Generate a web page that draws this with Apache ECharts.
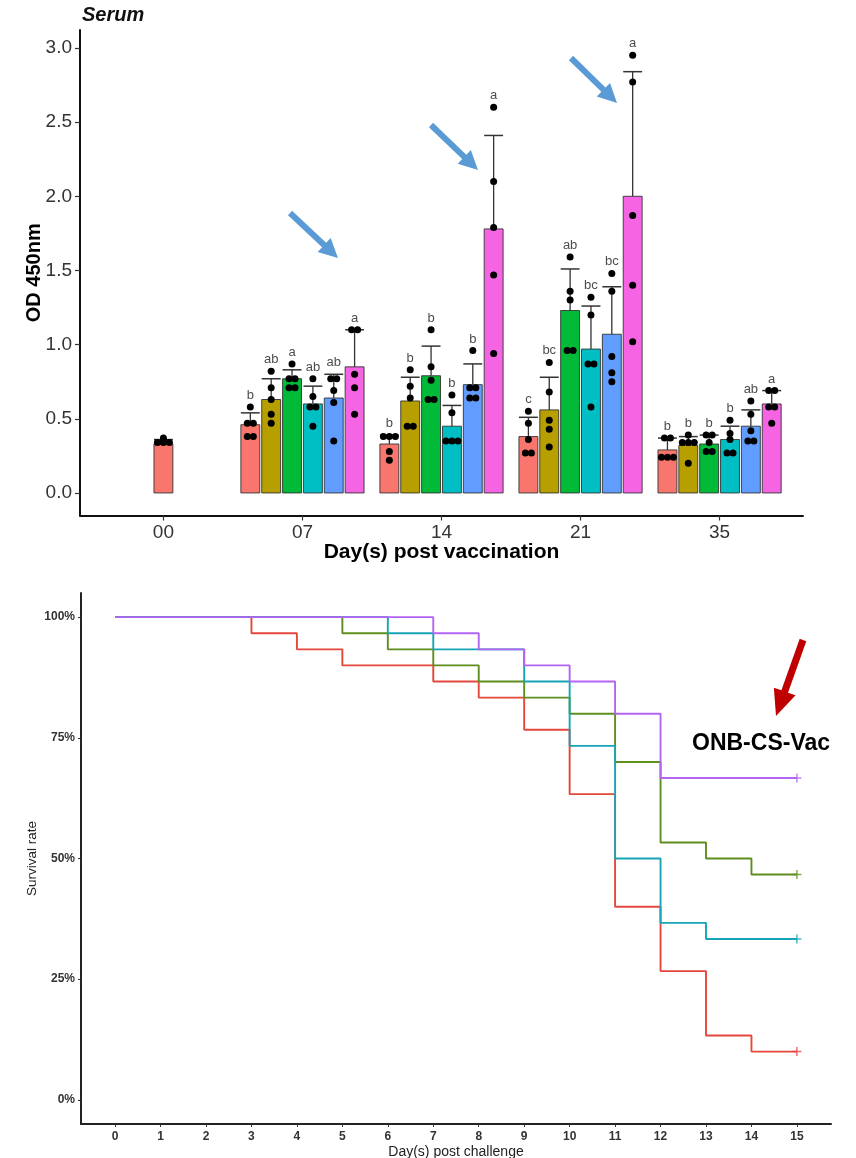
<!DOCTYPE html>
<html>
<head>
<meta charset="utf-8">
<title>Serum OD and survival</title>
<script src="https://cdn.jsdelivr.net/npm/echarts/dist/echarts.min.js"></script>
<style>
  html, body { margin: 0; padding: 0; background: #fff; }
  #main { width: 856px; height: 1158px; }
</style>
</head>
<body>
<div id="main"></div>
<script>
// ---- top panel: OD 450nm per day post vaccination ----
var days = ['00', '07', '14', '21', '35'];
var barColors = ['#F8766D', '#B79F00', '#00BA38', '#00BFC4', '#619CFF', '#F564E3'];

var meanD00 = [0.33];
var upperD00 = [0.36];
var letterD00 = [''];
var ptsD00 = [[0.37, 0.35, 0.34, 0.34, 0.34]];

var meanD07 = [0.46, 0.63, 0.77, 0.60, 0.64, 0.85];
var upperD07 = [0.54, 0.77, 0.83, 0.72, 0.80, 1.10];
var letterD07 = ['b', 'ab', 'a', 'ab', 'ab', 'a'];
var ptsD07 = [
  [0.58, 0.47, 0.47, 0.38, 0.38],
  [0.82, 0.71, 0.63, 0.53, 0.47],
  [0.87, 0.77, 0.77, 0.71, 0.71],
  [0.77, 0.65, 0.58, 0.58, 0.45],
  [0.77, 0.77, 0.69, 0.61, 0.35],
  [1.10, 1.10, 0.80, 0.71, 0.53]
];

var meanD14 = [0.33, 0.62, 0.79, 0.45, 0.73, 1.78];
var upperD14 = [0.39, 0.78, 0.99, 0.59, 0.87, 2.41];
var letterD14 = ['b', 'b', 'b', 'b', 'b', 'a'];
var ptsD14 = [
  [0.38, 0.38, 0.38, 0.28, 0.22],
  [0.83, 0.72, 0.64, 0.45, 0.45],
  [1.10, 0.85, 0.76, 0.63, 0.63],
  [0.66, 0.54, 0.35, 0.35, 0.35],
  [0.96, 0.71, 0.71, 0.64, 0.64],
  [2.60, 2.10, 1.79, 1.47, 0.94]
];

var meanD21 = [0.38, 0.56, 1.23, 0.97, 1.07, 2.00];
var upperD21 = [0.51, 0.78, 1.51, 1.26, 1.39, 2.84];
var letterD21 = ['c', 'bc', 'ab', 'bc', 'bc', 'a'];
var ptsD21 = [
  [0.55, 0.47, 0.36, 0.27, 0.27],
  [0.88, 0.68, 0.49, 0.43, 0.31],
  [1.59, 1.36, 1.30, 0.96, 0.96],
  [1.32, 1.20, 0.87, 0.87, 0.58],
  [1.48, 1.36, 0.92, 0.81, 0.75],
  [2.95, 2.77, 1.87, 1.40, 1.02]
];

var meanD35 = [0.29, 0.32, 0.33, 0.36, 0.45, 0.60];
var upperD35 = [0.37, 0.38, 0.39, 0.45, 0.56, 0.69];
var letterD35 = ['b', 'b', 'b', 'b', 'ab', 'a'];
var ptsD35 = [
  [0.37, 0.37, 0.24, 0.24, 0.24],
  [0.39, 0.34, 0.34, 0.34, 0.20],
  [0.39, 0.39, 0.34, 0.28, 0.28],
  [0.49, 0.40, 0.36, 0.27, 0.27],
  [0.62, 0.53, 0.42, 0.35, 0.35],
  [0.69, 0.69, 0.58, 0.58, 0.47]
];

var odTicks = [0, 0.5, 1.0, 1.5, 2.0, 2.5, 3.0];

// ---- bottom panel: survival after challenge (step points, %) ----
var survDays = [0, 1, 2, 3, 4, 5, 6, 7, 8, 9, 10, 11, 12, 13, 14, 15];
var survTicks = [0, 25, 50, 75, 100];
var survRed = [[0, 100], [3, 96.67], [4, 93.33], [5, 90], [7, 86.67], [8, 83.33], [9, 76.67], [10, 63.33], [11, 40], [12, 26.67], [13, 13.33], [14, 10], [15, 10]];
var survGreen = [[0, 100], [5, 96.67], [6, 93.33], [7, 90], [8, 86.67], [9, 83.33], [10, 80], [11, 70], [12, 53.33], [13, 50], [14, 46.67], [15, 46.67]];
var survCyan = [[0, 100], [6, 96.67], [7, 93.33], [9, 86.67], [10, 73.33], [11, 50], [12, 36.67], [13, 33.33], [15, 33.33]];
var survPurple = [[0, 100], [7, 96.67], [8, 93.33], [9, 90], [10, 86.67], [11, 80], [12, 66.67], [15, 66.67]];
var survColors = ['#E5473D', '#5E8E1E', '#17A4B6', '#B264F2'];

// ---- build rows for the custom series ----
var dayMeans = [meanD00, meanD07, meanD14, meanD21, meanD35];
var dayUppers = [upperD00, upperD07, upperD14, upperD21, upperD35];
var dayLetters = [letterD00, letterD07, letterD14, letterD21, letterD35];
var dayPts = [ptsD00, ptsD07, ptsD14, ptsD21, ptsD35];

var barRows = [];
var dotRows = [];
for (var d = 0; d < days.length; d++) {
  var n = dayMeans[d].length;
  for (var m = 0; m < n; m++) {
    var pts = dayPts[d][m];
    var hi = Math.max.apply(null, pts.concat([dayUppers[d][m]]));
    barRows.push({ value: [d + 1, m, n, dayMeans[d][m], dayUppers[d][m], hi], letter: dayLetters[d][m] });
    // dots of equal value sit side by side, centred on the bar
    var sorted = pts.slice().sort(function (a, b) { return b - a; });
    var i = 0;
    while (i < sorted.length) {
      var j = i;
      while (j + 1 < sorted.length && Math.abs(sorted[j + 1] - sorted[i]) < 0.005) j++;
      var cnt = j - i + 1;
      for (var k = 0; k < cnt; k++) {
        dotRows.push([d + 1, m, n, sorted[i + k], k, cnt]);
      }
      i = j + 1;
    }
  }
}

var DODGE = 0.15;
var BARW = 0.136;
var FONT = 'Liberation Sans, Arial, sans-serif';

function renderBar(params, api) {
  var n = api.value(2);
  var x = api.value(0) + (api.value(1) - (n - 1) / 2) * DODGE;
  var base = api.coord([x, 0]);
  var top = api.coord([x, api.value(3)]);
  var up = api.coord([x, api.value(4)]);
  var hi = api.coord([x, api.value(5)]);
  var w = api.size([BARW, 0])[0];
  var letter = barRows[params.dataIndex].letter;
  return {
    type: 'group',
    children: [
      { type: 'rect', shape: { x: base[0] - w / 2, y: top[1], width: w, height: base[1] - top[1] },
        style: { fill: barColors[api.value(1)], stroke: '#333', lineWidth: 0.9 } },
      { type: 'line', shape: { x1: top[0], y1: top[1], x2: up[0], y2: up[1] }, style: { stroke: '#333', lineWidth: 1.3 } },
      { type: 'line', shape: { x1: up[0] - w / 2, y1: up[1], x2: up[0] + w / 2, y2: up[1] }, style: { stroke: '#333', lineWidth: 1.5 } },
      { type: 'text', x: hi[0], y: hi[1] - 5,
        style: { text: letter, fill: '#4d4d4d', font: '13px ' + FONT, align: 'center', verticalAlign: 'bottom' } }
    ]
  };
}

function renderDot(params, api) {
  var n = api.value(2);
  var x = api.value(0) + (api.value(1) - (n - 1) / 2) * DODGE;
  var p = api.coord([x, api.value(3)]);
  var off = (api.value(4) - (api.value(5) - 1) / 2) * 6;
  return { type: 'circle', shape: { cx: p[0] + off, cy: p[1], r: 3.5 }, style: { fill: '#000' } };
}

function arrowPoints(x1, y1, x2, y2, sw, hw, hl) {
  var dx = x2 - x1, dy = y2 - y1;
  var len = Math.sqrt(dx * dx + dy * dy);
  var ux = dx / len, uy = dy / len, px = -uy, py = ux;
  var bx = x2 - ux * hl, by = y2 - uy * hl;
  return [
    [x1 + px * sw / 2, y1 + py * sw / 2],
    [bx + px * sw / 2, by + py * sw / 2],
    [bx + px * hw / 2, by + py * hw / 2],
    [x2, y2],
    [bx - px * hw / 2, by - py * hw / 2],
    [bx - px * sw / 2, by - py * sw / 2],
    [x1 - px * sw / 2, y1 - py * sw / 2]
  ];
}

var plus = 'path://M0,4.2H10V5.8H0Z M4.2,0H5.8V10H4.2Z';

function survLine(name, data, color) {
  return {
    name: name, type: 'line', xAxisIndex: 1, yAxisIndex: 1, step: 'end',
    data: data, symbol: 'none', lineStyle: { color: color, width: 1.9 }, z: 3
  };
}
function censor(data, color) {
  var last = data[data.length - 1];
  return {
    type: 'scatter', xAxisIndex: 1, yAxisIndex: 1, data: [last],
    symbol: plus, symbolSize: 9, itemStyle: { color: color }, z: 4
  };
}

var chart = echarts.init(document.getElementById('main'), null, { renderer: 'canvas' });
var option = {
  animation: false,
  textStyle: { fontFamily: FONT },
  grid: [
    { left: 80, right: 53, top: 30, height: 485.5, outerBoundsMode: 'none' },
    { left: 81, right: 25, top: 593, height: 531, outerBoundsMode: 'none' }
  ],
  xAxis: [
    {
      type: 'value', gridIndex: 0, min: 0.4, max: 5.6,
      name: 'Day(s) post vaccination', nameLocation: 'middle', nameGap: 26, nameMoveOverlap: false,
      nameTextStyle: { fontSize: 21, fontWeight: 'bold', color: '#000' },
      axisLine: { onZero: false, lineStyle: { color: '#111', width: 2 } },
      axisTick: { customValues: [1, 2, 3, 4, 5], length: 5, lineStyle: { color: '#333', width: 1.2 } },
      axisLabel: { customValues: [1, 2, 3, 4, 5], margin: 8, fontSize: 19, color: '#333',
        formatter: function (v) { return days[Math.round(v) - 1]; } },
      splitLine: { show: false }
    },
    {
      type: 'value', gridIndex: 1, min: -0.75, max: 15.75,
      name: 'Day(s) post challenge', nameLocation: 'middle', nameGap: 21, nameMoveOverlap: false,
      nameTextStyle: { fontSize: 14, color: '#222' },
      axisLine: { onZero: false, lineStyle: { color: '#222', width: 2 } },
      axisTick: { customValues: survDays, length: 3, lineStyle: { color: '#333' } },
      axisLabel: { customValues: survDays, margin: 7, fontSize: 12, fontWeight: 'bold', color: '#333' },
      splitLine: { show: false }
    }
  ],
  yAxis: [
    {
      type: 'value', gridIndex: 0, min: -0.152, max: 3.121,
      name: 'OD 450nm', nameLocation: 'middle', nameGap: 36, nameMoveOverlap: false,
      nameTextStyle: { fontSize: 20, fontWeight: 'bold', color: '#000' },
      axisLine: { show: true, onZero: false, lineStyle: { color: '#111', width: 2 } },
      axisTick: { show: true, customValues: odTicks, length: 5, lineStyle: { color: '#333', width: 1.2 } },
      axisLabel: { customValues: odTicks, margin: 8, fontSize: 19, color: '#333',
        formatter: function (v) { return v.toFixed(1); } },
      splitLine: { show: false }
    },
    {
      type: 'value', gridIndex: 1, min: -5, max: 105,
      name: 'Survival rate', nameLocation: 'middle', nameGap: 42, nameMoveOverlap: false,
      nameTextStyle: { fontSize: 13.5, color: '#222' },
      axisLine: { show: true, onZero: false, lineStyle: { color: '#222', width: 2 } },
      axisTick: { show: true, customValues: survTicks, length: 3, lineStyle: { color: '#333' } },
      axisLabel: { customValues: survTicks, margin: 6, fontSize: 12, fontWeight: 'bold', color: '#333',
        formatter: function (v) { return v + '%'; } },
      splitLine: { show: false }
    }
  ],
  series: [
    { type: 'custom', xAxisIndex: 0, yAxisIndex: 0, renderItem: renderBar, data: barRows, z: 2 },
    { type: 'custom', xAxisIndex: 0, yAxisIndex: 0, renderItem: renderDot, data: dotRows, z: 3 },
    survLine('red', survRed, survColors[0]),
    survLine('green', survGreen, survColors[1]),
    survLine('cyan', survCyan, survColors[2]),
    survLine('purple', survPurple, survColors[3]),
    censor(survRed, survColors[0]),
    censor(survGreen, survColors[1]),
    censor(survCyan, survColors[2]),
    censor(survPurple, survColors[3])
  ],
  graphic: [
    { type: 'text', left: 82, top: 5, style: { text: 'Serum', font: 'italic bold 20px ' + FONT, fill: '#111' } },
    { type: 'polygon', shape: { points: arrowPoints(290, 213, 338, 258, 6, 19, 19) }, style: { fill: '#5B9BD5' } },
    { type: 'polygon', shape: { points: arrowPoints(431, 125, 478, 170, 6, 19, 19) }, style: { fill: '#5B9BD5' } },
    { type: 'polygon', shape: { points: arrowPoints(571, 58, 617, 103, 6, 19, 19) }, style: { fill: '#5B9BD5' } },
    { type: 'polygon', shape: { points: arrowPoints(803, 640, 776, 716, 7, 23, 26) }, style: { fill: '#C00000' } },
    { type: 'text', left: 692, top: 732, style: { text: 'ONB-CS-Vac', font: 'bold 23px ' + FONT, fill: '#000' } }
  ]
};
chart.setOption(option);
</script>
</body>
</html>
